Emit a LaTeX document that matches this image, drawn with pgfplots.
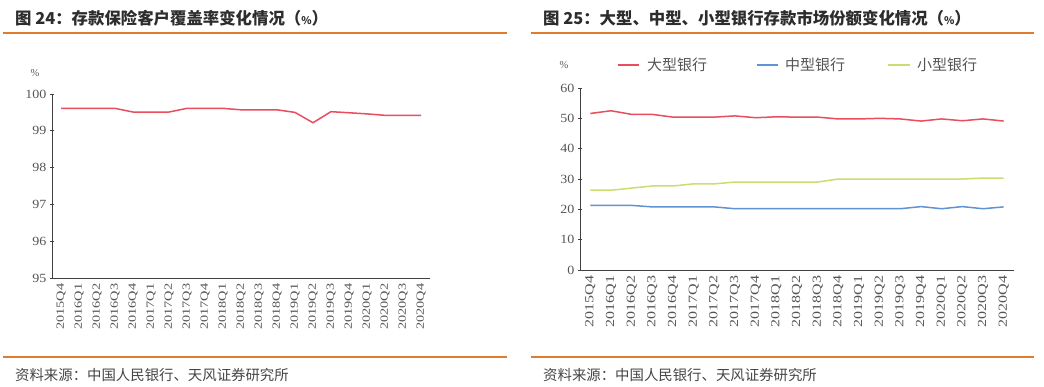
\documentclass[border=0pt]{standalone}
\usepackage{fontspec}
\usepackage{graphicx}
\setmainfont{Liberation Serif}
\newfontfamily\cjk{Noto Sans CJK SC}
\usepackage{pgfplots}
\pgfplotsset{compat=1.18}
\newcommand\sx[1]{\scalebox{1.3}[1]{#1}}
\definecolor{lred}{RGB}{232,78,94}
\definecolor{lblue}{RGB}{96,146,214}
\definecolor{lgreen}{RGB}{200,222,112}
\definecolor{rule}{RGB}{224,124,44}
\definecolor{titlec}{RGB}{45,45,45}
\definecolor{srcc}{RGB}{70,70,70}
\definecolor{tickc}{RGB}{85,85,85}
\pgfplotstableread{
x cover
0 99.61
1 99.61
2 99.61
3 99.61
4 99.51
5 99.51
6 99.51
7 99.61
8 99.61
9 99.61
10 99.57
11 99.57
12 99.57
13 99.50
14 99.22
15 99.52
16 99.49
17 99.46
18 99.42
19 99.42
20 99.42
}\coverdata
\pgfplotstableread{
x big mid small
0 51.6 21.3 26.3
1 52.5 21.3 26.3
2 51.3 21.3 27.0
3 51.3 20.8 27.7
4 50.4 20.8 27.7
5 50.4 20.8 28.4
6 50.4 20.8 28.4
7 50.8 20.2 29.0
8 50.2 20.2 29.0
9 50.5 20.2 29.0
10 50.4 20.2 29.0
11 50.4 20.2 29.0
12 49.8 20.2 30.0
13 49.8 20.2 30.0
14 50.0 20.2 30.0
15 49.8 20.2 30.0
16 49.1 20.9 30.0
17 49.8 20.2 30.0
18 49.2 20.9 30.0
19 49.8 20.2 30.3
20 49.1 20.8 30.3
}\sharedata
\pgfplotsset{
  basestyle/.style={
    scale only axis,
    anchor=south west,
    axis x line=bottom, axis y line=left,
    axis line style={-, black!75, line width=0.8pt},
    xmin=-0.5, xmax=20.5,
    xtick={0,...,20},
    xticklabels={\sx{2015Q4},\sx{2016Q1},\sx{2016Q2},\sx{2016Q3},\sx{2016Q4},\sx{2017Q1},\sx{2017Q2},\sx{2017Q3},\sx{2017Q4},\sx{2018Q1},\sx{2018Q2},\sx{2018Q3},\sx{2018Q4},\sx{2019Q1},\sx{2019Q2},\sx{2019Q3},\sx{2019Q4},\sx{2020Q1},\sx{2020Q2},\sx{2020Q3},\sx{2020Q4}},
    major x tick style={draw=none},
    extra x ticks={-0.5,0.5,...,20.5},
    extra x tick labels={},
    extra x tick style={tick align=inside, major tick length=3.5pt, major tick style={draw=black!75, line width=0.7pt}},
    y tick style={black!75, line width=0.7pt},
    ytick align=center, major tick length=4pt,
    yticklabel={\scalebox{1.12}[1]{\pgfmathprintnumber{\tick}}},
    yticklabel style={text=tickc, font=\fontsize{12.5}{12.5}\selectfont},
    tick label style={text=tickc},
    /pgf/number format/assume math mode=true,
    clip=false,
  }
}
\begin{document}
\begin{tikzpicture}[x=1pt,y=1pt]
\fill[white] (0,0) rectangle (1044,386);
% titles
\node[anchor=west, text=titlec, inner sep=0] at (15,368) {\cjk\bfseries\fontsize{16.4}{16.4}\selectfont 图 24：存款保险客户覆盖率变化情况（{\fontsize{10.5}{10.5}\selectfont\%}）};
\node[anchor=west, text=titlec, inner sep=0] at (543,368) {\cjk\bfseries\fontsize{16.4}{16.4}\selectfont 图 25：大型、中型、小型银行存款市场份额变化情况（{\fontsize{10.5}{10.5}\selectfont\%}）};
\draw[rule, line width=1.1pt] (3,353) -- (507,353);
\draw[rule, line width=1.1pt] (531,353) -- (1034,353);
\draw[rule, line width=1.1pt] (3,29) -- (507,29);
\draw[rule, line width=1.1pt] (531,29) -- (1034,29);
\node[anchor=west, text=srcc, inner sep=0] at (15,11) {\cjk\fontsize{14.4}{14.4}\selectfont 资料来源：中国人民银行、天风证券研究所};
\node[anchor=west, text=srcc, inner sep=0] at (543,11) {\cjk\fontsize{14.4}{14.4}\selectfont 资料来源：中国人民银行、天风证券研究所};
% percent labels
\node[text=tickc, inner sep=0] at (35,313) {\fontsize{10.5}{10.5}\selectfont\%};
\node[text=tickc, inner sep=0] at (564,321) {\fontsize{10.5}{10.5}\selectfont\%};
% legend of the right chart
\draw[lred, line width=1.5pt] (618,321) -- (639,321);
\node[anchor=west, text=tickc, inner sep=0] at (647,321) {\cjk\fontsize{15}{15}\selectfont 大型银行};
\draw[lblue, line width=1.5pt] (757,321) -- (778,321);
\node[anchor=west, text=tickc, inner sep=0] at (785,321) {\cjk\fontsize{15}{15}\selectfont 中型银行};
\draw[lgreen, line width=1.5pt] (888,321) -- (910,321);
\node[anchor=west, text=tickc, inner sep=0] at (917,321) {\cjk\fontsize{15}{15}\selectfont 小型银行};

\begin{axis}[basestyle,
  at={(52pt,108pt)}, width=378pt, height=184pt,
  ymin=95, ymax=100, ytick={95,96,...,100},
  xticklabel style={rotate=90, anchor=east, font=\fontsize{11}{11}\selectfont},
]
\addplot[lred, line width=1.5pt, no markers] table[x=x, y=cover] {\coverdata};
\end{axis}

\begin{axis}[basestyle,
  at={(580pt,116pt)}, width=434pt, height=182pt,
  ymin=0, ymax=60, ytick={0,10,...,60},
  xticklabel style={rotate=90, anchor=east, font=\fontsize{12.3}{12.3}\selectfont},
]
\addplot[lred, line width=1.5pt, no markers] table[x=x, y=big] {\sharedata};
\addplot[lblue, line width=1.5pt, no markers] table[x=x, y=mid] {\sharedata};
\addplot[lgreen, line width=1.5pt, no markers] table[x=x, y=small] {\sharedata};
\end{axis}
\end{tikzpicture}
\end{document}
